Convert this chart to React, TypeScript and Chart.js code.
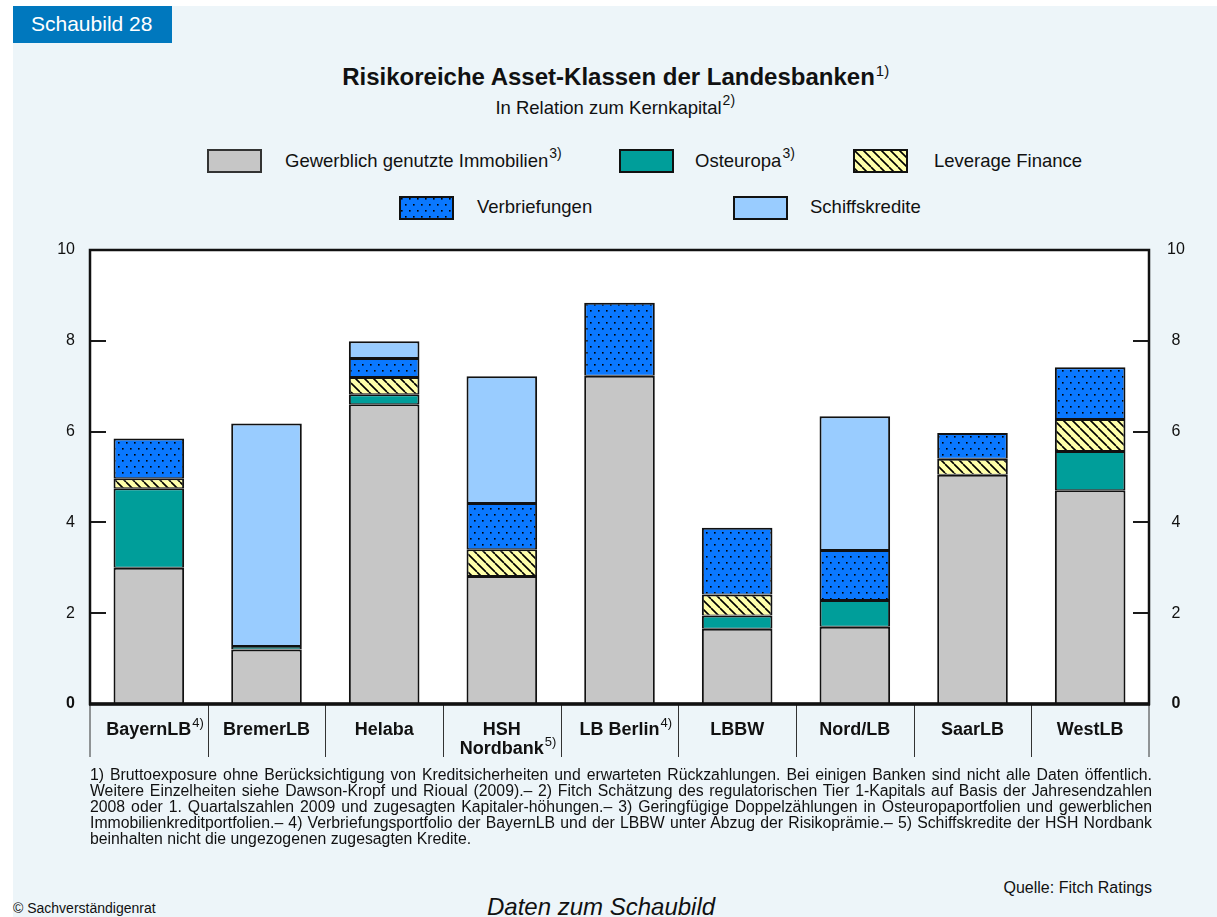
import React, { useEffect, useRef } from "react";
import { Chart, registerables } from "chart.js";
Chart.register(...registerables);

// ---------- data ----------
const categories = ["BayernLB", "BremerLB", "Helaba", "HSH Nordbank", "LB Berlin", "LBBW", "Nord/LB", "SaarLB", "WestLB"];
const labelLines = [["BayernLB"], ["BremerLB"], ["Helaba"], ["HSH", "Nordbank"], ["LB Berlin"], ["LBBW"], ["Nord/LB"], ["SaarLB"], ["WestLB"]];
const labelNotes = ["4)", "", "", "5)", "4)", "", "", "", ""];
const gewerblich = [3.0, 1.2, 6.6, 2.82, 7.23, 1.66, 1.7, 5.05, 4.71];
const osteuropa = [1.75, 0.08, 0.22, null, null, 0.29, 0.59, null, 0.86];
const leverage = [0.22, null, 0.38, 0.59, null, 0.46, null, 0.35, 0.71];
const verbriefungen = [0.88, null, 0.42, 1.02, 1.61, 1.47, 1.1, 0.57, 1.14];
const schiffskredite = [null, 4.9, 0.37, 2.79, null, null, 2.95, null, null];
const yTicks = [0, 2, 4, 6, 8, 10];
const seriesNames = ["Gewerblich genutzte Immobilien", "Osteuropa", "Leverage Finance", "Verbriefungen", "Schiffskredite"];

const FONT = '"Liberation Sans", Arial, Helvetica, sans-serif';
const GRAY = "#C6C6C6";
const TEAL = "#009E9A";
const LIGHT = "#99CCFF";
const YEL = "#FFFFAA";
const BLUE = "#0A78FF";

function hatchCanvas(): HTMLCanvasElement {
  const s = 9;
  const c = document.createElement("canvas");
  c.width = s; c.height = s;
  const g = c.getContext("2d")!;
  g.fillStyle = YEL; g.fillRect(0, 0, s, s);
  g.strokeStyle = "#000"; g.lineWidth = 1.6;
  g.beginPath();
  for (const k of [-s, 0, s]) { g.moveTo(k, 0); g.lineTo(k + s, s); }
  g.stroke();
  return c;
}
function dotCanvas(): HTMLCanvasElement {
  const c = document.createElement("canvas");
  c.width = 8; c.height = 12;
  const g = c.getContext("2d")!;
  g.fillStyle = BLUE; g.fillRect(0, 0, 8, 12);
  g.fillStyle = "#000";
  g.fillRect(2, 2, 1.6, 1.6);
  g.fillRect(6, 8, 1.6, 1.6);
  return c;
}
function fillFor(i: number, ctx: CanvasRenderingContext2D): string | CanvasPattern {
  if (i === 0) return GRAY;
  if (i === 1) return TEAL;
  if (i === 2) return ctx.createPattern(hatchCanvas(), "repeat")!;
  if (i === 3) return ctx.createPattern(dotCanvas(), "repeat")!;
  return LIGHT;
}

const decor = {
  id: "decor",
  beforeDraw(chart: any) {
    const { ctx, chartArea: a } = chart;
    ctx.save();
    ctx.fillStyle = "#FFFFFF";
    ctx.fillRect(a.left, a.top, a.right - a.left, a.bottom - a.top);
    ctx.restore();
  },
  afterDatasetsDraw(chart: any) {
    const { ctx, chartArea: a, scales } = chart;
    const y = scales.y, x = scales.x;
    const ln = (x1: number, y1: number, x2: number, y2: number) => {
      ctx.beginPath(); ctx.moveTo(x1, y1); ctx.lineTo(x2, y2); ctx.stroke();
    };
    ctx.save();
    ctx.strokeStyle = "#1a1a1a";
    ctx.lineWidth = 2;
    for (const v of yTicks) {
      if (v === 0 || v === 10) continue;
      const py = Math.round(y.getPixelForValue(v));
      ln(a.left, py, a.left + 16, py);
      ln(a.right - 16, py, a.right, py);
    }
    // separators under axis
    const half = (x.getPixelForValue(1) - x.getPixelForValue(0)) / 2;
    ctx.strokeStyle = "#333";
    ctx.lineWidth = 1;
    for (let i = 0; i <= categories.length; i++) {
      const px = i === 0 ? a.left : i === categories.length ? a.right : Math.round(x.getPixelForValue(i) - half) + 0.5;
      ln(px, a.bottom, px, a.bottom + 53);
    }
    // plot border
    ctx.strokeStyle = "#111";
    ctx.lineWidth = 2.5;
    ctx.strokeRect(a.left, a.top, a.right - a.left, a.bottom - a.top);
    ctx.lineWidth = 3.5;
    const zy = y.getPixelForValue(0);
    ln(a.left - 1, zy, a.right + 1, zy);
    // category labels
    ctx.fillStyle = "#111";
    ctx.textBaseline = "alphabetic";
    for (let i = 0; i < categories.length; i++) {
      const cx = x.getPixelForValue(i);
      const lines = labelLines[i];
      lines.forEach((t, j) => {
        const by = a.bottom + 31 + j * 19;
        ctx.font = `bold 18px ${FONT}`;
        ctx.textAlign = "center";
        ctx.fillText(t, cx, by);
        if (j === lines.length - 1 && labelNotes[i]) {
          const w = ctx.measureText(t).width;
          ctx.font = `13px ${FONT}`;
          ctx.textAlign = "left";
          ctx.fillText(labelNotes[i], cx + w / 2 + 1, by - 8);
        }
      });
    }
    ctx.restore();
  },
};

function ChartCanvas() {
  const ref = useRef<HTMLCanvasElement>(null);
  useEffect(() => {
    const canvas = ref.current!;
    const ctx = canvas.getContext("2d")!;
    const series = [gewerblich, osteuropa, leverage, verbriefungen, schiffskredite];
    const chart = new Chart(canvas, {
      type: "bar",
      data: {
        labels: categories,
        datasets: series.map((d, i) => ({
          label: seriesNames[i],
          data: d,
          backgroundColor: fillFor(i, ctx),
          borderColor: "#111",
          borderWidth: { top: 2, bottom: 1, left: 2, right: 2 },
          borderSkipped: false,
          barPercentage: 0.6,
          categoryPercentage: 1,
          stack: "s",
        })),
      },
      options: {
        animation: false,
        responsive: false,
        devicePixelRatio: 1,
        layout: { padding: { top: 20, left: 0, right: 0, bottom: 0 } },
        plugins: { legend: { display: false }, tooltip: { enabled: false }, title: { display: false } },
        scales: {
          x: {
            stacked: true,
            grid: { display: false, drawTicks: false },
            border: { display: false },
            ticks: { display: false },
            afterFit: (s: any) => { s.height = 66; },
          },
          y: {
            stacked: true,
            position: "left",
            min: 0,
            max: 10,
            grid: { display: false, drawTicks: false },
            border: { display: false },
            ticks: {
              stepSize: 2,
              padding: 15,
              color: "#111",
              font: (c: any) => ({ family: FONT, size: 16, weight: c.tick && c.tick.value === 0 ? "bold" : "normal" }),
            },
            afterFit: (s: any) => { s.width = 90; s.paddingTop = 0; s.paddingBottom = 0; },
          },
          y2: {
            type: "linear",
            position: "right",
            min: 0,
            max: 10,
            grid: { display: false, drawTicks: false },
            border: { display: false },
            ticks: {
              stepSize: 2,
              padding: 18,
              crossAlign: "center",
              color: "#111",
              font: (c: any) => ({ family: FONT, size: 16, weight: c.tick && c.tick.value === 0 ? "bold" : "normal" }),
            },
            afterFit: (s: any) => { s.width = 68; s.paddingTop = 0; s.paddingBottom = 0; },
          },
        },
      } as any,
      plugins: [decor],
    });
    return () => chart.destroy();
  }, []);
  return <canvas ref={ref} width={1217} height={540} style={{ position: "absolute", left: 0, top: 230, width: 1217, height: 540 }} />;
}

function Swatch({ idx, left, top }: { idx: number; left: number; top: number }) {
  const ref = useRef<HTMLCanvasElement>(null);
  useEffect(() => {
    const c = ref.current!;
    const g = c.getContext("2d")!;
    g.clearRect(0, 0, c.width, c.height);
    g.fillStyle = fillFor(idx, g) as any;
    g.fillRect(0, 0, c.width, c.height);
    g.strokeStyle = idx === 0 ? "#333" : "#111";
    g.lineWidth = 2;
    g.strokeRect(1, 1, c.width - 2, c.height - 2);
  }, [idx]);
  return <canvas ref={ref} width={55} height={24} style={{ position: "absolute", left, top, width: 55, height: 24 }} />;
}

function Sup({ text, size, dy }: { text: string; size: number; dy: number }) {
  return (
    <span style={{ position: "absolute", left: "100%", top: dy, fontSize: size, marginLeft: 1, whiteSpace: "nowrap", fontWeight: "normal" }}>{text}</span>
  );
}

const footLines = [
  "1) Bruttoexposure ohne Berücksichtigung von Kreditsicherheiten und erwarteten Rückzahlungen. Bei einigen Banken sind nicht alle Daten öffentlich.",
  "Weitere Einzelheiten siehe Dawson-Kropf und Rioual (2009).– 2) Fitch Schätzung des regulatorischen Tier 1-Kapitals auf Basis der Jahresendzahlen",
  "2008 oder 1. Quartalszahlen 2009 und zugesagten Kapitaler-höhungen.– 3) Geringfügige Doppelzählungen in Osteuropaportfolien und gewerblichen",
  "Immobilienkreditportfolien.– 4) Verbriefungsportfolio der BayernLB und der LBBW unter Abzug der Risikoprämie.– 5) Schiffskredite der HSH Nordbank",
  "beinhalten nicht die ungezogenen zugesagten Kredite.",
];

const legendItems = [
  { idx: 0, sx: 207, sy: 149, tx: 285, ty: 152, sup: "3)" },
  { idx: 1, sx: 619, sy: 149, tx: 695, ty: 152, sup: "3)" },
  { idx: 2, sx: 853, sy: 149, tx: 934, ty: 152, sup: "" },
  { idx: 3, sx: 399, sy: 196, tx: 477, ty: 198, sup: "" },
  { idx: 4, sx: 733, sy: 196, tx: 810, ty: 198, sup: "" },
];

export default function App() {
  const txt: React.CSSProperties = { position: "absolute", fontFamily: FONT, color: "#111", whiteSpace: "nowrap" };
  return (
    <div style={{ position: "absolute", left: 0, top: 0, width: 1217, height: 917, background: "#FFFFFF", overflow: "hidden", fontFamily: FONT }}>
      <div style={{ position: "absolute", left: 13, top: 6, right: 0, bottom: 0, background: "#EDF5F9" }} />
      <div style={{ position: "absolute", left: 13, top: 6, width: 159, height: 37, background: "#0078BE" }} />
      <div style={{ ...txt, left: 31, top: 13, fontSize: 21, lineHeight: "21px", color: "#FFFFFF" }}>Schaubild 28</div>

      <div style={{ position: "absolute", left: 0, top: 65, width: 1217, textAlign: "center", fontFamily: FONT }}>
        <span style={{ position: "relative", fontSize: 24, lineHeight: "24px", fontWeight: "bold", color: "#111" }}>
          Risikoreiche Asset-Klassen der Landesbanken
          <Sup text="1)" size={15} dy={-4} />
        </span>
      </div>
      <div style={{ position: "absolute", left: 0, top: 98.5, width: 1217, textAlign: "center", fontFamily: FONT }}>
        <span style={{ position: "relative", fontSize: 18.5, lineHeight: "18.5px", color: "#111" }}>
          In Relation zum Kernkapital
          <Sup text="2)" size={14} dy={-6} />
        </span>
      </div>

      {legendItems.map((it) => (
        <React.Fragment key={it.idx}>
          <Swatch idx={it.idx} left={it.sx} top={it.sy} />
          <div style={{ ...txt, left: it.tx, top: it.ty, fontSize: 18.5, lineHeight: "18.5px" }}>
            <span style={{ position: "relative" }}>
              {seriesNames[it.idx]}
              {it.sup ? <Sup text={it.sup} size={14} dy={-6} /> : null}
            </span>
          </div>
        </React.Fragment>
      ))}

      <ChartCanvas />

      <div style={{ position: "absolute", left: 90, top: 767, width: 1062, fontFamily: FONT, fontSize: 15.8, lineHeight: "16px", color: "#111" }}>
        {footLines.map((l, i) => (
          <div key={i} style={{ textAlign: "justify", textAlignLast: i < footLines.length - 1 ? "justify" : "left", whiteSpace: "nowrap" } as React.CSSProperties}>{l}</div>
        ))}
      </div>

      <div style={{ ...txt, right: 1217 - 1152, top: 880, fontSize: 16, lineHeight: "16px" }}>Quelle: Fitch Ratings</div>
      <div style={{ ...txt, left: 13, top: 901, fontSize: 14, lineHeight: "14px" }}>© Sachverständigenrat</div>
      <div style={{ ...txt, left: 487, top: 895, fontSize: 24, lineHeight: "24px", fontStyle: "italic" }}>Daten zum Schaubild</div>
    </div>
  );
}
